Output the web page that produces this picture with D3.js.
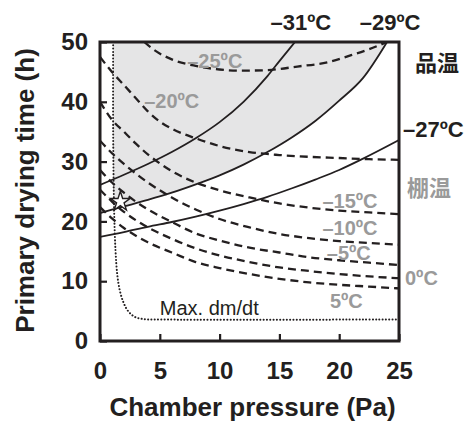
<!DOCTYPE html>
<html>
<head>
<meta charset="utf-8">
<script src="https://cdn.jsdelivr.net/npm/d3@7/dist/d3.min.js"></script>
<style>
  body { margin: 0; background: #fff; }
  text { font-family: "Liberation Sans", Arial, sans-serif; }
</style>
</head>
<body>
<div id="chart"></div>
<script>
// data: [pressure (Pa), time (h)]

// shelf temperature curves (dashed)
var shelfM25 = [[3.7, 50], [4.5, 48.7], [6, 47.1], [8, 46.0], [10, 45.4], [11.5, 45.2], [14, 45.3], [16.5, 45.9], [19, 46.6], [21, 47.8], [22.5, 48.8], [24, 50]];
var shelfM20 = [[0, 47.5], [1, 45], [2, 42.8], [3, 40.6], [4, 38.4], [5, 36.7], [6, 35.5], [8, 33.9], [10, 32.6], [12.5, 31.6], [15, 31.1], [17.5, 30.8], [20, 30.6], [22.5, 30.4], [25, 30.3]];
var shelfM15 = [[0, 40], [1, 37], [2, 35], [3, 33], [4, 31.2], [5, 29.7], [6, 28.4], [8, 26.5], [10, 25.2], [12.5, 24], [15, 23], [17.5, 22.3], [20, 21.8], [22.5, 21.5], [25, 21.2]];
var shelfM10 = [[0, 33.5], [1, 31.4], [2, 29.6], [3, 28], [4, 26.5], [5, 25.2], [6, 24], [8, 22], [10, 20.4], [12.5, 19], [15, 17.9], [17.5, 17.2], [20, 16.7], [22.5, 16.4], [25, 16.1]];
var shelfM5 = [[0, 28.6], [1, 26.5], [2, 24.8], [3, 23.3], [4, 22], [5, 20.9], [6, 19.9], [8, 18], [10, 16.8], [12.5, 15.6], [15, 14.8], [17.5, 14], [20, 13.5], [22.5, 13.1], [25, 12.7]];
var shelf0 = [[0, 25.3], [1, 23.3], [2, 21.6], [3, 20.2], [4, 19], [5, 18], [6, 17.1], [8, 15.5], [10, 14.3], [12.5, 13.2], [15, 12.3], [17.5, 11.7], [20, 11.2], [22.5, 10.8], [25, 10.5]];
var shelf5 = [[0, 22.4], [1, 20.5], [2, 18.9], [3, 17.6], [4, 16.5], [5, 15.6], [6, 14.8], [8, 13.2], [10, 12.2], [12.5, 11.2], [15, 10.4], [17.5, 9.8], [20, 9.4], [22.5, 9.1], [25, 8.8]];

// product temperature curves (solid)
var prodM31 = [[0, 26.1], [2, 27.8], [4, 29.6], [6, 31.6], [8, 33.9], [10, 36.6], [12, 40], [14, 44.3], [15, 46.8], [16.3, 50]];
var prodM29 = [[0, 21.4], [2, 22.5], [4, 23.6], [6, 24.8], [8.3, 26.4], [10, 27.7], [12, 29.5], [14, 31.6], [16, 34], [18, 36.8], [20, 40.2], [22, 44], [24, 50]];
var prodM27 = [[0, 17.4], [2, 18.2], [4, 19.1], [6, 19.9], [8, 20.8], [10, 21.8], [12, 22.9], [14, 24.1], [16, 25.5], [18, 27], [20, 28.6], [22, 30.5], [25, 33.6]];

// max. dm/dt limit (dotted)
var maxDmDt = [[1.1, 50], [1.1, 35], [1.18, 22], [1.3, 15], [1.45, 11], [1.65, 8.5], [1.95, 6.5], [2.35, 5], [2.85, 4.1], [3.5, 3.7], [5, 3.6], [25, 3.6]];

var star = [1.7, 23.3];

var xTicks = [0, 5, 10, 15, 20, 25];
var yTicks = [0, 10, 20, 30, 40, 50];

// setting up SVG drawing area
var margin = { top: 42, right: 70, bottom: 82, left: 100 };
var width = 469 - margin.left - margin.right;
var height = 423 - margin.top - margin.bottom;

var svg = d3
  .select("#chart")
  .append("svg")
  .attr("width", 469)
  .attr("height", 423)
  .append("g")
  .attr("transform", `translate(${margin.left}, ${margin.top})`);

// scales
var x = d3.scaleLinear().domain([0, 25]).range([0, width]);
var y = d3.scaleLinear().domain([0, 50]).range([height, 0]);

svg.append("clipPath").attr("id", "plot-clip")
  .append("rect").attr("width", width).attr("height", height);

// grey region: above the -29 curve, right of the max dm/dt line
svg.append("clipPath").attr("id", "grey-clip")
  .append("rect")
  .attr("x", x(maxDmDt[0][0]))
  .attr("width", width - x(maxDmDt[0][0]))
  .attr("height", height);

var area = d3.area()
  .x((d) => x(d[0]))
  .y0(y(50))
  .y1((d) => y(d[1]))
  .curve(d3.curveMonotoneX);

svg.append("path")
  .datum(prodM29)
  .attr("clip-path", "url(#grey-clip)")
  .attr("fill", "#e5e5e6")
  .attr("d", area);

var line = d3.line()
  .x((d) => x(d[0]))
  .y((d) => y(d[1]))
  .curve(d3.curveMonotoneX);

var plot = svg.append("g").attr("clip-path", "url(#plot-clip)");

// dashed shelf curves
[shelfM25, shelfM20, shelfM15, shelfM10, shelfM5, shelf0, shelf5].forEach(function (d) {
  plot.append("path")
    .datum(d)
    .attr("fill", "none")
    .attr("stroke", "#231f20")
    .attr("stroke-width", 2.3)
    .attr("stroke-dasharray", "8,5")
    .attr("d", line);
});

// solid product curves
[prodM31, prodM29, prodM27].forEach(function (d) {
  plot.append("path")
    .datum(d)
    .attr("fill", "none")
    .attr("stroke", "#231f20")
    .attr("stroke-width", 1.8)
    .attr("d", line);
});

// dotted max dm/dt
plot.append("path")
  .datum(maxDmDt)
  .attr("fill", "none")
  .attr("stroke", "#231f20")
  .attr("stroke-width", 2)
  .attr("stroke-linecap", "round")
  .attr("stroke-dasharray", "0.1,3.2")
  .attr("d", d3.line().x((d) => x(d[0])).y((d) => y(d[1])).curve(d3.curveCatmullRom));

// star marker
svg.append("path")
  .attr("transform", `translate(${x(star[0])}, ${y(star[1])})`)
  .attr("d", d3.symbol().type(d3.symbolStar).size(120))
  .attr("fill", "#fff")
  .attr("stroke", "#231f20")
  .attr("stroke-width", 1.4);

// axes with inward ticks
var xAxis = d3.axisBottom(x).tickValues(xTicks).tickSizeInner(-7).tickSizeOuter(0).tickPadding(21);
var yAxis = d3.axisLeft(y).tickValues(yTicks).tickSizeInner(-7).tickSizeOuter(0).tickPadding(12);

var gx = svg.append("g").attr("transform", `translate(0, ${height})`).call(xAxis);
var gy = svg.append("g").call(yAxis);

[gx, gy].forEach(function (g) {
  g.select(".domain").remove();
  g.selectAll(".tick line").attr("stroke", "#231f20").attr("stroke-width", 2.2);
  g.selectAll(".tick text")
    .attr("fill", "#231f20")
    .style("font-size", "24px")
    .style("font-weight", "bold");
});

// frame
svg.append("rect")
  .attr("width", width)
  .attr("height", height)
  .attr("fill", "none")
  .attr("stroke", "#231f20")
  .attr("stroke-width", 3);

// axis titles
svg.append("text")
  .attr("x", width / 2 + 3)
  .attr("y", height + 75)
  .attr("text-anchor", "middle")
  .attr("fill", "#231f20")
  .style("font-size", "26px")
  .style("font-weight", "bold")
  .text("Chamber pressure (Pa)");

svg.append("text")
  .attr("transform", `translate(-66, ${height / 2 - 1}) rotate(-90)`)
  .attr("text-anchor", "middle")
  .attr("fill", "#231f20")
  .style("font-size", "26px")
  .style("font-weight", "bold")
  .text("Primary drying time (h)");

// curve labels
function label(txt, px, py, anchor, color, size, weight, family) {
  var t = svg.append("text")
    .attr("x", px)
    .attr("y", py)
    .attr("text-anchor", anchor)
    .attr("fill", color)
    .style("font-size", size + "px")
    .style("font-weight", weight)
    .text(txt);
  if (family) t.style("font-family", family);
}

var black = "#231f20";
var grey = "#9a9a9a";
var cjk = '"Noto Sans CJK JP", sans-serif';

label("–31ºC", x(16.8), -12, "middle", black, 22, "bold");
label("–29ºC", x(24.25), -12, "middle", black, 22, "bold");
label("品温", width + 16, 29, "start", black, 22, "bold", cjk);
label("–27ºC", width + 4, y(34) - 1, "start", black, 22, "bold");
label("棚温", width + 8, 154, "start", grey, 22, "bold", cjk);

label("–25ºC", x(9.6), y(45.6), "middle", grey, 20, "bold");
label("–20ºC", x(6), y(38.9), "middle", grey, 20, "bold");
label("–15ºC", x(20.9), y(22.2), "middle", grey, 20, "bold");
label("–10ºC", x(20.9), y(17.7), "middle", grey, 20, "bold");
label("–5ºC", x(20.8), y(13.5), "middle", grey, 20, "bold");
label("0ºC", width + 6, y(9.3), "start", grey, 20, "bold");
label("5ºC", x(20.6), y(5.6), "middle", grey, 20, "bold");

label("Max. dm/dt", x(5), y(4.3), "start", black, 20, "normal");
</script>
</body>
</html>
